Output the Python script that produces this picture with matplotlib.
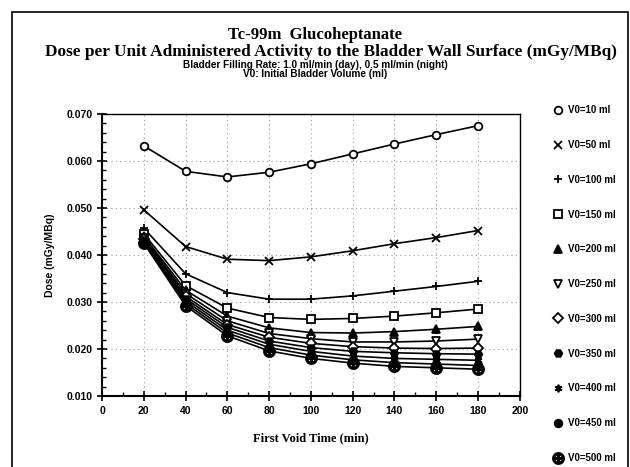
import matplotlib.pyplot as plt
from matplotlib.lines import Line2D
from matplotlib.patches import Rectangle
from matplotlib.ticker import MultipleLocator, FormatStrFormatter

# First void time (min)
times = [20, 40, 60, 80, 100, 120, 140, 160, 180]

# Dose (mGy/MBq) for each initial bladder volume
v0_10 = [0.0632, 0.0578, 0.0566, 0.0576, 0.0594, 0.0615, 0.0636, 0.0656, 0.0675]
v0_50 = [0.0496, 0.0418, 0.0391, 0.0388, 0.0396, 0.0409, 0.0424, 0.0437, 0.0452]
v0_100 = [0.0457, 0.0360, 0.0320, 0.0306, 0.0306, 0.0313, 0.0323, 0.0333, 0.0344]
v0_150 = [0.0445, 0.0335, 0.0287, 0.0267, 0.0263, 0.0265, 0.0270, 0.0277, 0.0285]
v0_200 = [0.0440, 0.0325, 0.0270, 0.0245, 0.0235, 0.0234, 0.0237, 0.0242, 0.0248]
v0_250 = [0.0437, 0.0318, 0.0260, 0.0233, 0.0222, 0.0215, 0.0215, 0.0217, 0.0221]
v0_300 = [0.0435, 0.0312, 0.0252, 0.0225, 0.0212, 0.0205, 0.0202, 0.0201, 0.0202]
v0_350 = [0.0432, 0.0307, 0.0246, 0.0217, 0.0203, 0.0195, 0.0192, 0.0190, 0.0189]
v0_400 = [0.0430, 0.0302, 0.0240, 0.0210, 0.0195, 0.0185, 0.0180, 0.0178, 0.0176]
v0_450 = [0.0428, 0.0297, 0.0234, 0.0203, 0.0187, 0.0177, 0.0171, 0.0168, 0.0165]
v0_500 = [0.0425, 0.0292, 0.0228, 0.0196, 0.0180, 0.0170, 0.0163, 0.0160, 0.0157]

labels = ['V0=10 ml', 'V0=50 ml', 'V0=100 ml', 'V0=150 ml', 'V0=200 ml', 'V0=250 ml',
          'V0=300 ml', 'V0=350 ml', 'V0=400 ml', 'V0=450 ml', 'V0=500 ml']
series = [v0_10, v0_50, v0_100, v0_150, v0_200, v0_250,
          v0_300, v0_350, v0_400, v0_450, v0_500]

# marker, filled?
styles = [('o', False), ('x', True), ('+', True), ('s', False), ('^', True), ('v', False),
          ('D', False), ('H', True), ((6, 2, 0), True), ('o', True), ('$\\oplus$', True)]

serif = ['Liberation Serif', 'DejaVu Serif']
narrow = ['Liberation Sans Narrow', 'Liberation Sans', 'DejaVu Sans']

fig = plt.figure(figsize=(6.3, 4.67), dpi=100)
ax = fig.add_axes([0.162, 0.152, 0.663, 0.604])

# frame round the figure
fig.patches.append(Rectangle((12 / 630, -0.05), 616 / 630, 1 - 12 / 467 + 0.05,
                             transform=fig.transFigure, fill=False, edgecolor='black', lw=1.2))

handles = []
for y, lab, (m, filled) in zip(series, labels, styles):
    fc = 'black' if filled else 'white'
    ms = 8 if isinstance(m, str) and m.startswith('$') else 5.5
    ax.plot(times, y, color='black', lw=1.2, marker=m, ms=ms,
            markerfacecolor=fc, markeredgecolor='black', mew=1.3, zorder=3)
    handles.append(Line2D([], [], color='black', ls='none', marker=m, ms=ms,
                          markerfacecolor=fc, markeredgecolor='black', mew=1.3, label=lab))

ax.set_xlim(0, 200)
ax.set_ylim(0.010, 0.070)
ax.xaxis.set_major_locator(MultipleLocator(20))
ax.xaxis.set_minor_locator(MultipleLocator(10))
ax.yaxis.set_major_locator(MultipleLocator(0.010))
ax.yaxis.set_minor_locator(MultipleLocator(0.002))
ax.yaxis.set_major_formatter(FormatStrFormatter('%.3f'))
ax.tick_params(which='major', direction='inout', length=7, width=1.2)
ax.tick_params(which='minor', direction='in', length=3, width=1)
for t in ax.get_xticklabels() + ax.get_yticklabels():
    t.set_fontfamily(narrow)
    t.set_fontweight('bold')
    t.set_fontsize(7.5)
for s in ['left', 'bottom']:
    ax.spines[s].set_linewidth(1.5)
for s in ['top', 'right']:
    ax.spines[s].set_linewidth(1.0)

ax.grid(True, which='major', color='#999999', linestyle=(0, (1, 3)), lw=0.8)

ax.set_xlabel('First Void Time (min)', fontfamily=serif, fontweight='bold', fontsize=9, labelpad=12)
ax.set_ylabel('Dose (mGy/MBq)', fontfamily=narrow, fontweight='bold', fontsize=7.5, labelpad=8)

fig.text(0.5, 0.926, 'Tc-99m  Glucoheptanate', ha='center', va='center',
         fontfamily=serif, fontweight='bold', fontsize=12)
fig.text(0.525, 0.889, 'Dose per Unit Administered Activity to the Bladder Wall Surface (mGy/MBq)',
         ha='center', va='center', fontfamily=serif, fontweight='bold', fontsize=12.4)
fig.text(0.5, 0.861, 'Bladder Filling Rate: 1.0 ml/min (day), 0.5 ml/min (night)',
         ha='center', va='center', fontfamily=narrow, fontweight='bold', fontsize=7.2)
fig.text(0.5, 0.842, 'V0: Initial Bladder Volume (ml)',
         ha='center', va='center', fontfamily=narrow, fontweight='bold', fontsize=7.2)

leg = ax.legend(handles=handles, loc='upper left', bbox_to_anchor=(1.07, 1.045),
                frameon=False, handlelength=1.0, handletextpad=0.6, labelspacing=2.55,
                borderaxespad=0, prop={'family': narrow, 'weight': 'bold', 'size': 7})

plt.savefig('out.png', dpi=100)
